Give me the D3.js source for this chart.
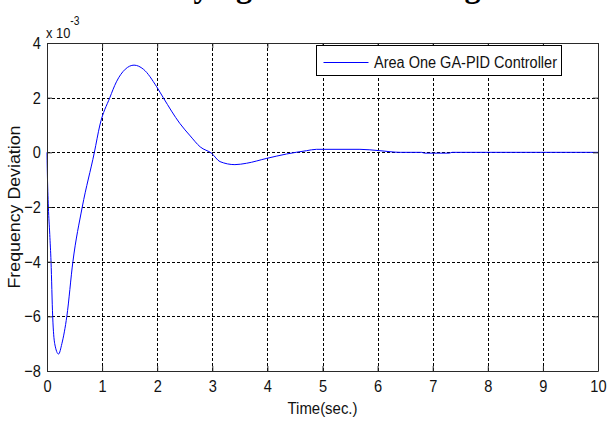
<!DOCTYPE html>
<html>
<head>
<meta charset="utf-8">
<script src="https://cdn.jsdelivr.net/npm/d3@7"></script>
<style>
  html, body { margin: 0; padding: 0; background: #fff; }
  svg { display: block; }
</style>
</head>
<body>
<div id="chart"></div>
<script>
// Respuesta de desviación de frecuencia (valores en unidades de 1e-3)
const timeSec = [0, 0.005, 0.025, 0.05, 0.073, 0.103, 0.14, 0.21, 0.27, 0.36, 0.47, 0.64, 0.86, 0.96,
  1.14, 1.26, 1.42, 1.58, 1.75, 1.99, 2.11, 2.41, 2.6, 2.78, 2.99, 3.14, 3.41, 3.62, 3.99, 4.35,
  4.71, 4.89, 5.68, 6.04, 6.41, 6.8, 6.85, 7.3, 7.35, 10];
const deviation = [0, -0.6, -2, -3, -4, -6, -7, -7.38, -7, -6, -4, -2, 0, 1,
  2, 2.58, 3.04, 3.19, 3.04, 2.4, 2, 1.06, 0.6, 0.2, -0.04, -0.34, -0.45, -0.4, -0.22, -0.06,
  0.06, 0.11, 0.11, 0.06, 0, 0, -0.03, -0.03, 0, 0];
const xTicks = [0, 1, 2, 3, 4, 5, 6, 7, 8, 9, 10];
const yTicks = [-8, -6, -4, -2, 0, 2, 4];
const seriesName = 'Area One GA-PID Controller';
const titleText = 'Varying Load Test Using';

const width = 609, height = 422;
const margin = { top: 43, right: 11, bottom: 51, left: 47 };
const squeeze = 0.86; // letras estrechas como en MATLAB

const svg = d3.select('#chart').append('svg')
  .attr('width', width)
  .attr('height', height)
  .style('font-family', "'Liberation Sans', Arial, sans-serif");

const x = d3.scaleLinear().domain([0, 10]).range([margin.left, width - margin.right]);
const y = d3.scaleLinear().domain([-8, 4]).range([height - margin.bottom, margin.top]);

// Título (cortado arriba, solo asoman los trazos descendentes)
svg.append('text')
  .attr('x', 143).attr('y', -3)
  .attr('font-family', "'Liberation Serif', 'Times New Roman', serif")
  .attr('font-weight', 'bold')
  .attr('font-size', 32)
  .text(titleText);

// Rejilla punteada
const grid = svg.append('g').attr('stroke', '#000').attr('stroke-width', 1).attr('stroke-dasharray', '3,2');
grid.selectAll('.gx').data(xTicks.slice(1, -1)).join('line')
  .attr('x1', d => Math.round(x(d)) + 0.5).attr('x2', d => Math.round(x(d)) + 0.5)
  .attr('y1', y(4)).attr('y2', y(-8));
grid.selectAll('.gy').data(yTicks.slice(1, -1)).join('line')
  .attr('y1', d => Math.round(y(d)) + 0.5).attr('y2', d => Math.round(y(d)) + 0.5)
  .attr('x1', x(0)).attr('x2', x(10));

// Curva
const line = d3.line()
  .x((d, i) => x(timeSec[i]))
  .y(d => y(d))
  .curve(d3.curveMonotoneX);
svg.append('path')
  .datum(deviation)
  .attr('fill', 'none')
  .attr('stroke', '#0000ff')
  .attr('stroke-width', 1)
  .attr('d', line);

// Ejes con marcas hacia dentro
const axisColor = '#2a2a2a';
const gBottom = svg.append('g')
  .attr('transform', `translate(0,${y(-8)})`)
  .call(d3.axisBottom(x).tickValues(xTicks).tickSize(-5).tickPadding(9).tickSizeOuter(0));
const gLeft = svg.append('g')
  .attr('transform', `translate(${x(0)},0)`)
  .call(d3.axisLeft(y).tickValues(yTicks).tickSize(-5).tickPadding(7).tickSizeOuter(0));
const gTop = svg.append('g')
  .attr('transform', `translate(0,${y(4)})`)
  .call(d3.axisTop(x).tickValues(xTicks).tickSize(-5).tickFormat('').tickSizeOuter(0));
const gRight = svg.append('g')
  .attr('transform', `translate(${x(10)},0)`)
  .call(d3.axisRight(y).tickValues(yTicks).tickSize(-5).tickFormat('').tickSizeOuter(0));

[gBottom, gLeft, gTop, gRight].forEach(g => {
  g.selectAll('path, line').attr('stroke', axisColor);
  g.selectAll('text')
    .attr('fill', '#111')
    .attr('font-size', 17)
    .attr('font-family', "'Liberation Sans', Arial, sans-serif");
});
gBottom.selectAll('text').attr('transform', `scale(${squeeze},1)`);
gLeft.selectAll('text').attr('transform', `scale(${squeeze},1)`);

// Multiplicador x 10^-3
const mult = svg.append('text')
  .attr('transform', `translate(46,38) scale(${squeeze},1)`)
  .attr('font-size', 15)
  .attr('fill', '#111');
mult.append('tspan').text('x 10');
mult.append('tspan').attr('dy', -13).attr('font-size', 12).text('-3');

// Etiquetas de ejes
svg.append('text')
  .attr('x', (x(0) + x(10)) / 2).attr('y', 414)
  .attr('text-anchor', 'middle')
  .attr('font-size', 16)
  .attr('textLength', 70).attr('lengthAdjust', 'spacingAndGlyphs')
  .attr('fill', '#111')
  .text('Time(sec.)');
svg.append('text')
  .attr('transform', `translate(20,${(y(4) + y(-8)) / 2}) rotate(-90)`)
  .attr('text-anchor', 'middle')
  .attr('font-size', 17)
  .attr('textLength', 163).attr('lengthAdjust', 'spacingAndGlyphs')
  .attr('fill', '#111')
  .text('Frequency Deviation');

// Leyenda
const legend = svg.append('g').attr('transform', 'translate(316.5,45.5)');
legend.append('rect')
  .attr('width', 245).attr('height', 30)
  .attr('fill', '#fff').attr('stroke', '#000').attr('stroke-width', 1);
legend.append('line')
  .attr('x1', 7).attr('x2', 52).attr('y1', 17).attr('y2', 17)
  .attr('stroke', '#0000ff').attr('stroke-width', 1);
legend.append('text')
  .attr('x', 57.5).attr('y', 22.5)
  .attr('font-size', 16)
  .attr('textLength', 183).attr('lengthAdjust', 'spacingAndGlyphs')
  .attr('fill', '#111')
  .text(seriesName);
</script>
</body>
</html>
